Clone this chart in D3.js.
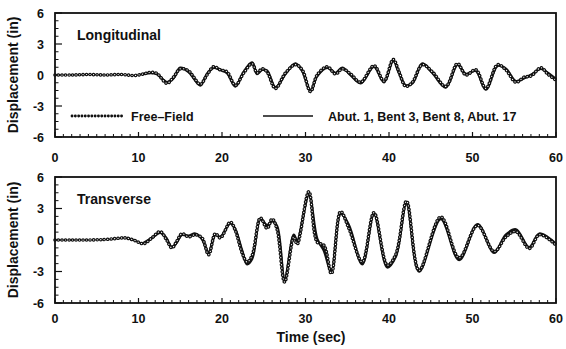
<!DOCTYPE html>
<html>
<head>
<meta charset="utf-8">
<script src="https://cdn.jsdelivr.net/npm/d3@7"></script>
<style>
  html, body { margin: 0; padding: 0; background: #fff; }
  svg { display: block; }
  text { font-family: "Liberation Sans", Arial, Helvetica, sans-serif; fill: #111; }
</style>
</head>
<body>
<svg id="chart" width="566" height="349"></svg>
<script>
// Time axis (seconds)
const xTicks = [0, 10, 20, 30, 40, 50, 60];
const yTicks = [-6, -3, 0, 3, 6];

// Longitudinal component
const timeLong = [0,2,4,6,8,9.5,10.6,11.4,12.2,13.4,14.2,15,16,16.6,17.4,18.2,19,19.8,20.6,21.6,22.6,23.6,24.2,24.8,25.4,26.4,27.6,28.8,29.6,30.6,31.4,32.6,33.6,34.4,35.4,36.6,38.2,39.4,40.5,41.2,42,42.8,44,45.2,46.8,48.2,49.2,50.4,51.6,53,54,55.2,56.2,57,58.2,59,60];
const freeLong = [0,0,0.05,0,0.05,-0.05,0.1,0.25,0.15,-0.8,-0.2,0.6,0.4,-0.2,-0.9,0,0.8,0.5,0.3,-1.0,0.2,1.1,0.2,0.6,0.3,-1.3,0.2,1.0,0.5,-1.6,0,0.8,0.1,0.6,0.1,-0.7,0.9,-0.6,1.5,0.3,-1.1,-0.7,1.0,0.3,-1.1,1.1,0,0.5,-1.3,1.0,0.5,-0.7,-0.2,-0.1,0.7,0.1,-0.5];
const structLong = [null,null,null,null,null,null,0.1,0.2,0.1,-0.7,-0.3,0.7,0.3,-0.3,-1.0,0.1,0.7,0.5,0.2,-1.1,0.3,1.2,0.1,0.5,0.4,-1.2,0.1,1.1,0.4,-1.5,-0.1,0.7,0.2,0.7,0,-0.8,0.8,-0.7,1.4,0.2,-1.0,-0.8,1.1,0.2,-1.2,1.0,0.1,0.4,-1.4,0.9,0.6,-0.6,-0.3,0,0.6,0.2,-0.4];

// Transverse component
const timeTrans = [0,2,4,6,7.4,8.4,9.4,10.6,11.6,12.6,13.3,14,14.6,15.2,16,16.8,17.6,18.4,19.2,19.8,21,21.6,22.4,23,23.6,24.6,25.4,26,26.6,27.5,28.6,29,30.4,31.4,32.2,33.1,34.2,35.2,36.8,38.2,39.8,40.8,42.1,43.6,46.2,48.4,50.6,52.6,54,55.2,56.8,58,59.6,60];
const freeTrans = [0,0,0,0.05,0.15,0.2,0,-0.35,0.2,0.8,0.1,-0.75,-0.1,0.6,0.3,0.5,0.2,-1.4,0.6,0.2,1.7,0.9,-1.2,-2.1,-1.5,2.1,1.1,2.0,1.0,-4.0,0.3,-0.4,4.6,-0.2,-0.5,-3.2,2.7,1.1,-2.1,2.6,-2.4,-1.4,3.7,-2.9,2.2,-1.7,1.4,-1.1,0.3,0.8,-0.8,0.5,-0.2,-0.5];
const structTrans = [null,null,null,null,null,null,null,-0.3,0.2,0.7,0.2,-0.7,-0.2,0.5,0.4,0.6,0.1,-1.2,0.5,0.3,1.6,1.0,-1.0,-2.3,-1.8,2.0,1.4,1.8,1.3,-3.7,0.5,-0.1,4.3,0.1,-1.0,-3.0,2.5,1.4,-2.3,2.5,-2.6,-1.6,3.5,-3.0,2.0,-1.9,1.5,-1.2,0.5,1.0,-0.7,0.6,-0.1,-0.4];

const panels = [
  { title: "Longitudinal", time: timeLong, free: freeLong, struct: structLong, top: 13, bottom: 137, labelGap: 25, legend: true },
  { title: "Transverse", time: timeTrans, free: freeTrans, struct: structTrans, top: 177, bottom: 303, labelGap: 20, legend: false }
];

const svg = d3.select("#chart");
const left = 55, right = 556;
const x = d3.scaleLinear().domain([0, 60]).range([left, right]);

panels.forEach(p => {
  const y = d3.scaleLinear().domain([-6, 6]).range([p.bottom, p.top]);
  const g = svg.append("g");

  // Minor ticks: every 1 s on the time axis, every 0.75 in on the displacement axis
  const xMinor = d3.range(1, 60, 1).filter(v => v % 10 !== 0);
  g.selectAll(".xminor").data(xMinor).join("line")
    .attr("x1", d => x(d)).attr("x2", d => x(d))
    .attr("y1", p.bottom).attr("y2", p.bottom - 3)
    .attr("stroke", "#111").attr("stroke-width", 1);
  g.selectAll(".xmajor").data(xTicks).join("line")
    .attr("x1", d => x(d)).attr("x2", d => x(d))
    .attr("y1", p.bottom).attr("y2", p.bottom - 5)
    .attr("stroke", "#111").attr("stroke-width", 1.2);
  const yMinor = d3.range(-6, 6.01, 0.75).filter(v => Math.abs(v % 3) > 1e-6);
  g.selectAll(".yminor").data(yMinor).join("line")
    .attr("x1", left).attr("x2", left + 3.5)
    .attr("y1", d => y(d)).attr("y2", d => y(d))
    .attr("stroke", "#111").attr("stroke-width", 1);
  g.selectAll(".ymajor").data(yTicks).join("line")
    .attr("x1", left).attr("x2", left + 7)
    .attr("y1", d => y(d)).attr("y2", d => y(d))
    .attr("stroke", "#111").attr("stroke-width", 1.2);

  // Tick labels
  g.selectAll(".xl").data(xTicks).join("text")
    .attr("x", d => x(d)).attr("y", p.bottom + p.labelGap)
    .attr("text-anchor", "middle").attr("font-size", 12.5).attr("font-weight", "bold")
    .text(d => d);
  g.selectAll(".yl").data(yTicks).join("text")
    .attr("x", left - 11).attr("y", d => y(d) + 4.5)
    .attr("text-anchor", "end").attr("font-size", 12.5).attr("font-weight", "bold")
    .text(d => d);

  // Axis title
  g.append("text")
    .attr("transform", `translate(18,${(p.top + p.bottom) / 2}) rotate(-90)`)
    .attr("text-anchor", "middle").attr("font-size", 14).attr("font-weight", "bold")
    .text("Displacement (in)");

  // Panel title
  g.append("text")
    .attr("x", 77).attr("y", p.top + 27)
    .attr("font-size", 14).attr("font-weight", "bold")
    .text(p.title);

  // Structure responses (solid) and free-field motion (ringed dots)
  const line = d3.line()
    .defined(d => d[1] !== null)
    .x(d => x(d[0])).y(d => y(d[1]))
    .curve(d3.curveCatmullRom.alpha(0.5));
  const structData = p.time.map((t, i) => [t, p.struct[i]]);
  const freeData = p.time.map((t, i) => [t, p.free[i]]);
  g.append("path").attr("d", line(structData))
    .attr("fill", "none").attr("stroke", "#111").attr("stroke-width", 2.6);
  g.append("path").attr("d", line(freeData))
    .attr("fill", "none").attr("stroke", "#111").attr("stroke-width", 3.6)
    .attr("stroke-linecap", "round").attr("stroke-dasharray", "0.1,3.4");
  g.append("path").attr("d", line(freeData))
    .attr("fill", "none").attr("stroke", "#fff").attr("stroke-width", 1.2)
    .attr("stroke-linecap", "round").attr("stroke-dasharray", "0.1,3.4");

  // Frame
  g.append("rect")
    .attr("x", left).attr("y", p.top)
    .attr("width", right - left).attr("height", p.bottom - p.top)
    .attr("fill", "none").attr("stroke", "#111").attr("stroke-width", 1.8);

  if (p.legend) {
    const ly = 116;
    g.append("line").attr("x1", 72).attr("x2", 122).attr("y1", ly).attr("y2", ly)
      .attr("stroke", "#111").attr("stroke-width", 2.8)
      .attr("stroke-linecap", "round").attr("stroke-dasharray", "0.1,3.2");
    g.append("text").attr("x", 131).attr("y", ly + 5)
      .attr("font-size", 12.5).attr("font-weight", "bold").text("Free\u2013Field");
    g.append("line").attr("x1", 263).attr("x2", 313).attr("y1", ly).attr("y2", ly)
      .attr("stroke", "#111").attr("stroke-width", 1.6);
    g.append("text").attr("x", 328).attr("y", ly + 5)
      .attr("font-size", 12.5).attr("font-weight", "bold").text("Abut. 1, Bent 3, Bent 8, Abut. 17");
  }
});

// Shared time-axis title
svg.append("text")
  .attr("x", 311).attr("y", 342)
  .attr("text-anchor", "middle").attr("font-size", 14).attr("font-weight", "bold")
  .text("Time (sec)");
</script>
</body>
</html>
